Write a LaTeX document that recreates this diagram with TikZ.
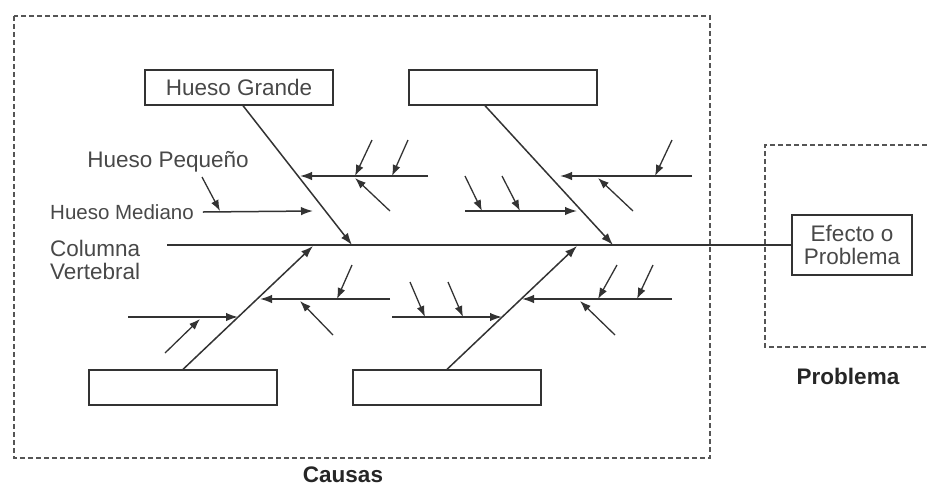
\documentclass[tikz,border=0pt]{standalone}
\usepackage{fontspec}
\setmainfont{Liberation Sans}
\usetikzlibrary{arrows.meta}

\definecolor{bonegray}{HTML}{333333}
\definecolor{textgray}{HTML}{484848}
\definecolor{dashgray}{HTML}{555555}

\begin{document}
\begin{tikzpicture}[x=1pt, y=-1pt, >={Latex[length=12pt, width=8.5pt]},
  every node/.style={font=\fontsize{22.5}{23}\selectfont, text=textgray, inner sep=0pt},
  bonebox/.style={draw=bonegray, line width=1.3pt, minimum width=188pt, minimum height=35pt},
  bone/.style={->, draw=bonegray, line width=1.5pt},
  twig/.style={-{Latex[length=11pt, width=8pt]}, draw=bonegray, line width=1.3pt},
  zone/.style={draw=dashgray, line width=1.3pt, dash pattern=on 5pt off 3pt},
  zonetitle/.style={font=\bfseries\fontsize{22.5}{23}\selectfont, text=black!85}]

\useasboundingbox (0,0) rectangle (927,488);

% Zones
\draw[zone] (14,16) rectangle (710,458);
\draw[zone] (927,145) -- (765,145) -- (765,347) -- (927,347);
\node (causas) [zonetitle] at (343,475) {Causas};
\node (problema) [zonetitle] at (848,376) {Problema};

% Nodes
\node (hg) [bonebox] at (239,87.5) {Hueso Grande};
\node (tr) [bonebox] at (503,87.5) {};
\node (bl) [bonebox] at (183,387.5) {};
\node (br) [bonebox] at (447,387.5) {};
\node (efecto) [draw=bonegray, line width=1.3pt, minimum width=120pt, minimum height=60pt, align=center] at (852,245) {Efecto o\\Problema};

\node (hp) at (168,162) {Hueso Pequeño};
\node (hm) [anchor=west, font=\fontsize{20.5}{23}\selectfont] at (50,212) {Hueso Mediano};
\node (cv) [anchor=west, align=left] at (50,260) {Columna\\Vertebral};

% Bone ends
\coordinate (spl) at (167,245);
\coordinate (hgtip) at (352,245);
\coordinate (trtip) at (613,245);
\coordinate (bltip) at (313,246);
\coordinate (brtip) at (577,246);

\coordinate (m1a) at (428,176); \coordinate (m1b) at (300,176);
\coordinate (m2b) at (313,211);
\coordinate (m3a) at (692,176); \coordinate (m3b) at (560,176);
\coordinate (m4a) at (465,211); \coordinate (m4b) at (577,211);
\coordinate (m5a) at (390,299); \coordinate (m5b) at (260,299);
\coordinate (m6a) at (128,317); \coordinate (m6b) at (238,317);
\coordinate (m7a) at (672,299); \coordinate (m7b) at (522,299);
\coordinate (m8a) at (392,317); \coordinate (m8b) at (502,317);

\coordinate (t0a) at (202,177); \coordinate (t0b) at (220,211);
\coordinate (t1a) at (372,140); \coordinate (t1b) at (355,176);
\coordinate (t2a) at (408,140); \coordinate (t2b) at (392,176);
\coordinate (t3a) at (390,211); \coordinate (t3b) at (355,178);
\coordinate (t4a) at (672,140); \coordinate (t4b) at (655,176);
\coordinate (t5a) at (633,211); \coordinate (t5b) at (598,178);
\coordinate (t6a) at (465,176); \coordinate (t6b) at (482,211);
\coordinate (t7a) at (502,176); \coordinate (t7b) at (520,211);
\coordinate (t8a) at (352,265); \coordinate (t8b) at (337,299);
\coordinate (t9a) at (333,335); \coordinate (t9b) at (300,301);
\coordinate (t10a) at (165,353); \coordinate (t10b) at (200,319);
\coordinate (t11a) at (617,265); \coordinate (t11b) at (598,299);
\coordinate (t12a) at (653,265); \coordinate (t12b) at (637,299);
\coordinate (t13a) at (615,335); \coordinate (t13b) at (580,301);
\coordinate (t14a) at (410,282); \coordinate (t14b) at (425,317);
\coordinate (t15a) at (448,282); \coordinate (t15b) at (463,317);

% Spine and big bones
\draw[bonegray, line width=1.5pt] (spl) -- (efecto.west);
\draw[bone] ([xshift=4pt]hg.south) -- (hgtip);
\draw[bone] ([xshift=-18pt]tr.south) -- (trtip);
\draw[bone] (bl.north) -- (bltip);
\draw[bone] (br.north) -- (brtip);

% Medium bones
\draw[bone] (m1a) -- (m1b);
\draw[bone] ([xshift=9pt]hm.east) -- (m2b);
\draw[bone] (m3a) -- (m3b);
\draw[bone] (m4a) -- (m4b);
\draw[bone] (m5a) -- (m5b);
\draw[bone] (m6a) -- (m6b);
\draw[bone] (m7a) -- (m7b);
\draw[bone] (m8a) -- (m8b);

% Small bones
\draw[twig] (t0a) -- (t0b);
\draw[twig] (t1a) -- (t1b);
\draw[twig] (t2a) -- (t2b);
\draw[twig] (t3a) -- (t3b);
\draw[twig] (t4a) -- (t4b);
\draw[twig] (t5a) -- (t5b);
\draw[twig] (t6a) -- (t6b);
\draw[twig] (t7a) -- (t7b);
\draw[twig] (t8a) -- (t8b);
\draw[twig] (t9a) -- (t9b);
\draw[twig] (t10a) -- (t10b);
\draw[twig] (t11a) -- (t11b);
\draw[twig] (t12a) -- (t12b);
\draw[twig] (t13a) -- (t13b);
\draw[twig] (t14a) -- (t14b);
\draw[twig] (t15a) -- (t15b);

\end{tikzpicture}
\end{document}
